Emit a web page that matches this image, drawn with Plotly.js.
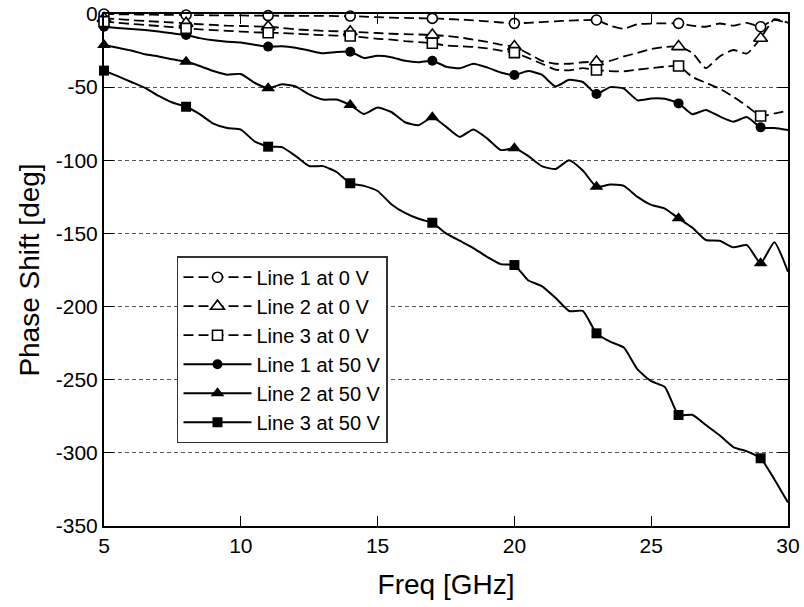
<!DOCTYPE html>
<html>
<head>
<meta charset="utf-8">
<script src="https://cdn.plot.ly/plotly-3.0.1.min.js"></script>
<style>html,body{margin:0;padding:0;background:#fff;}#chart{width:804px;height:607px;}</style>
</head>
<body>
<div id="chart"></div>
<script>
// Frequency grid [GHz]
const freq = [5,5.5,6,6.5,7,7.5,8,8.5,9,9.5,10,10.5,11,11.5,12,12.5,13,13.5,14,14.5,15,15.5,16,16.5,17,17.5,18,18.5,19,19.5,20,20.5,21,21.5,22,22.5,23,23.5,24,24.5,25,25.5,26,26.5,27,27.5,28,28.5,29,29.5,30];
// Frequencies where markers are drawn
const markerFreq = [5,8,11,14,17,20,23,26,29];

// Tick values / labels
const xTickVals = [5,10,15,20,25,30];
const yTickVals = [0,-50,-100,-150,-200,-250,-300,-350];
const yTickText = ['0','-50','-100','-150','-200','-250','-300','-350'];

const line1_0V = [0,-0.2,-0.3,-0.4,-0.5,-0.6,-0.7,-0.8,-0.9,-1,-1,-1.1,-1.1,-1.2,-1.2,-1.3,-1.3,-1.4,-1.4,-1.8,-2.2,-2.5,-2.7,-2.9,-3,-3.4,-3.8,-4.3,-5,-5.8,-6.4,-6,-5.5,-5,-4.5,-4.2,-4.1,-8,-10,-7,-6.5,-6.4,-6.4,-8,-8.7,-6.5,-8,-6,-8.7,-4,-6.4];
const line2_0V = [-3,-3.5,-4.2,-4.8,-5.3,-5.8,-6.4,-7,-7.5,-8,-8.2,-8.5,-8.7,-9.5,-10.5,-11,-11.5,-11.8,-12.1,-12.5,-13,-13.5,-13.8,-14,-14.4,-15,-16,-17.5,-19,-21,-22.3,-27,-32,-34,-34,-33,-32.6,-32,-29,-26.5,-24,-22.5,-22.3,-26.5,-37,-29,-24.6,-27,-16.6,-3.5,-6];
const line3_0V = [-5.2,-6,-6.8,-7.5,-8.2,-9,-9.8,-10.5,-11,-11.5,-12,-12.5,-12.8,-13,-13.5,-14,-14.5,-14.8,-15,-16,-17,-17.5,-18.5,-19.2,-20,-21.5,-22,-22.5,-23.5,-25,-26.4,-30,-34,-38,-38.5,-37,-38.3,-39,-39.2,-38,-37,-36,-35.5,-43,-47,-51,-56.5,-63,-69.7,-68,-66];
const line1_50V = [-8.7,-9.5,-10.2,-11,-12,-13.2,-14.4,-16.5,-18,-19,-19.5,-21,-22.3,-22,-23,-25,-26.9,-26,-25.8,-30,-28.5,-29.5,-32,-33,-31.9,-36,-37.1,-34,-36.5,-40,-41.7,-39,-41.5,-49.5,-45,-46.5,-54.7,-50,-51,-59,-57.8,-58,-61.1,-68.5,-65.6,-70,-73.6,-70.5,-77.5,-78,-79.3];
const line2_50V = [-21.2,-23,-25,-27.5,-29,-31,-32.6,-35.5,-39,-41.5,-41,-47,-50.8,-48,-49.5,-55,-58.5,-58.5,-62.2,-68.4,-64,-67,-74,-76,-70.6,-77,-84,-79,-85,-93,-91.8,-97,-104,-106,-100,-107,-118.1,-116.5,-117.5,-125,-130.5,-133,-139.7,-146,-154.5,-155,-159.5,-158,-170.4,-156,-176.2];
const line3_50V = [-38.7,-42.5,-46.5,-50.5,-56,-60.5,-63.4,-68.5,-75,-78,-79,-87,-90.7,-91,-97,-104,-104,-108,-115.7,-117.5,-121,-130,-136,-140,-142.7,-150,-155,-160,-166,-171,-171.6,-182,-186,-194,-203,-203,-218.3,-224,-228,-243,-251,-255,-274.1,-274,-281,-288,-296,-299,-303.7,-318,-334];

const seriesNames = ['Line 1 at 0 V','Line 2 at 0 V','Line 3 at 0 V','Line 1 at 50 V','Line 2 at 50 V','Line 3 at 50 V'];
const seriesData = [line1_0V,line2_0V,line3_0V,line1_50V,line2_50V,line3_50V];

const isMark = freq.map(f => markerFreq.indexOf(f) >= 0);
const CLEAR = 'rgba(0,0,0,0)';

function makeTrace(i) {
  const open = i < 3;
  const symbol = ['circle','triangle-up','square'][i % 3];
  const size = [10,12,10][i % 3];
  return {
    x: freq, y: seriesData[i], name: seriesNames[i], type: 'scatter', mode: 'lines+markers',
    legendrank: i + 1, cliponaxis: false,
    line: {color: '#000', width: open ? 1.8 : 2, dash: open ? '10px,5px' : 'solid', shape: 'spline', smoothing: 0.5},
    marker: {
      symbol: symbol, size: size,
      color: isMark.map(m => m ? (open ? '#fff' : '#000') : CLEAR),
      line: {width: open ? 1.6 : 0, color: isMark.map(m => m ? '#000' : CLEAR)}
    },
    hoverinfo: 'skip'
  };
}

// draw 50 V traces first, 0 V on top
const traces = [3,4,5,0,1,2].map(makeTrace);

const font = 'Liberation Sans, Arial, sans-serif';
const layout = {
  width: 804, height: 607,
  margin: {l: 104, r: 16, t: 14, b: 81},
  paper_bgcolor: '#fff', plot_bgcolor: '#fff',
  font: {family: font, color: '#000', size: 20},
  showlegend: true,
  legend: {
    x: 0.1067, y: 0.527, xanchor: 'left', yanchor: 'top',
    bgcolor: '#fff', bordercolor: '#333', borderwidth: 1.5,
    font: {family: font, size: 20, color: '#000'},
    itemwidth: 68, tracegroupgap: 0
  },
  xaxis: {
    range: [5, 30], tickvals: xTickVals,
    ticks: 'inside', ticklen: 10, tickwidth: 1, tickcolor: '#000',
    showline: true, linewidth: 2, linecolor: '#000', mirror: 'ticks',
    showgrid: false, zeroline: false,
    tickfont: {family: font, size: 21, color: '#000'},
    title: {text: 'Freq [GHz]', font: {family: font, size: 28, color: '#000'}, standoff: 18}
  },
  yaxis: {
    range: [-350, 0], tickvals: yTickVals, ticktext: yTickText,
    ticks: 'inside', ticklen: 10, tickwidth: 1, tickcolor: '#000',
    showline: true, linewidth: 2, linecolor: '#000', mirror: 'ticks',
    showgrid: true, gridcolor: '#555', gridwidth: 1, griddash: '4px,3px',
    zeroline: false,
    tickfont: {family: font, size: 21, color: '#000'},
    title: {text: 'Phase Shift [deg]', font: {family: font, size: 28, color: '#000'}, standoff: 8}
  }
};

Plotly.newPlot('chart', traces, layout, {staticPlot: true, displayModeBar: false});
</script>
</body>
</html>
